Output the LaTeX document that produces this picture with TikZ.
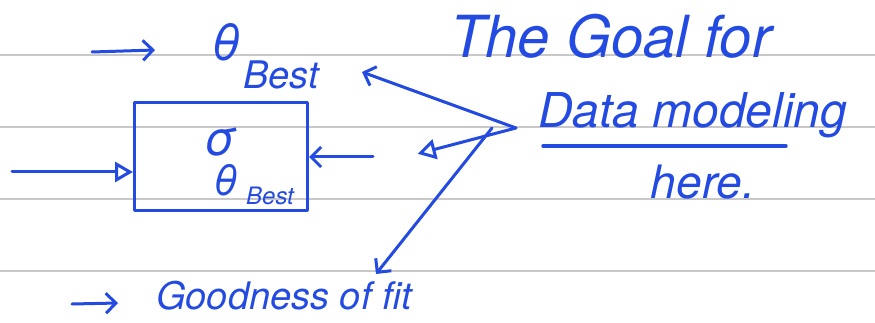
\documentclass[tikz,border=0pt]{standalone}
\usepackage{fontspec}
\setmainfont{TeX Gyre Heros}
\usetikzlibrary{arrows.meta}
\definecolor{ink}{RGB}{35,75,225}
\definecolor{rule}{RGB}{200,200,200}
\tikzset{
  pen/.style={draw=ink, line width=3pt, line cap=round, line join=round},
  hand/.style={text=ink, font=\itshape, inner sep=0pt},
  open/.style={-{Triangle[open, length=18pt, width=20pt, line width=3pt]}},
  thin/.style={-{Straight Barb[length=10pt, width=20pt, line width=3pt]}},
}
\begin{document}
\begin{tikzpicture}[x=1pt,y=-1pt]
\useasboundingbox (0,0) rectangle (875,323);
\fill[white] (0,0) rectangle (875,323);
\foreach \yy in {55,127,199,271} \draw[rule, line width=1.6pt] (0,\yy) -- (875,\yy);
% theta best
\node[hand, font=\fontsize{50}{50}\selectfont\itshape] (theta) at (226,42) {θ};
\node[hand, font=\fontsize{38}{38}\selectfont\itshape] (best) at (281,75) {Best};
\coordinate (a1s) at (92,52); \coordinate (a1e) at (155,50);
\draw[pen, thin] (a1s) -- (a1e);
% box
\node[pen, minimum width=173pt, minimum height=108pt, inner sep=0pt] (box) at (221,157) {};
\node[hand, font=\fontsize{48}{48}\selectfont\itshape] (sig) at (220,142) {σ};
\node[hand, font=\fontsize{42}{42}\selectfont\itshape] (thb) at (226,180) {θ};
\node[hand, font=\fontsize{24}{24}\selectfont\itshape] (thbsub) at (270,196) {Best};
\coordinate (lin) at (12,172);
\draw[pen, open] (lin) -- (box.west |- lin);
\coordinate (rin) at (373,157);
\draw[pen, thin] (rin) -- (box.east |- rin);
% hub
\coordinate (hub) at (516,128);
\coordinate (hub2) at (492,128);
\node[inner sep=0pt] (mid) at (417,154) {};
\draw[pen, open] (hub) -- (mid);
\coordinate (besttip) at (362,72);
\draw[pen, thin] (hub) -- (besttip);
% goodness
\node[hand, font=\fontsize{38}{38}\selectfont\itshape, anchor=west] (good) at (156,296) {Goodness of fit};
\coordinate (goodtip) at (376,274);
\draw[pen, thin] (hub2) -- (goodtip);
\coordinate (a2s) at (72,304); \coordinate (a2e) at (118,303);
\draw[pen, thin] (a2s) -- (a2e);
% right text
\node[hand, font=\fontsize{58}{58}\selectfont\itshape, anchor=west] (goal) at (450,36) {The Goal for};
\node[hand, font=\fontsize{48}{48}\selectfont\itshape, anchor=west] (data) at (538,115) {Data modeling};
\coordinate (u1) at (543,146); \coordinate (u2) at (786,146);
\draw[pen, line width=3.4pt] (u1) -- (u2);
\node[hand, font=\fontsize{46}{46}\selectfont\itshape] (here) at (703,182) {here.};
\end{tikzpicture}
\end{document}
